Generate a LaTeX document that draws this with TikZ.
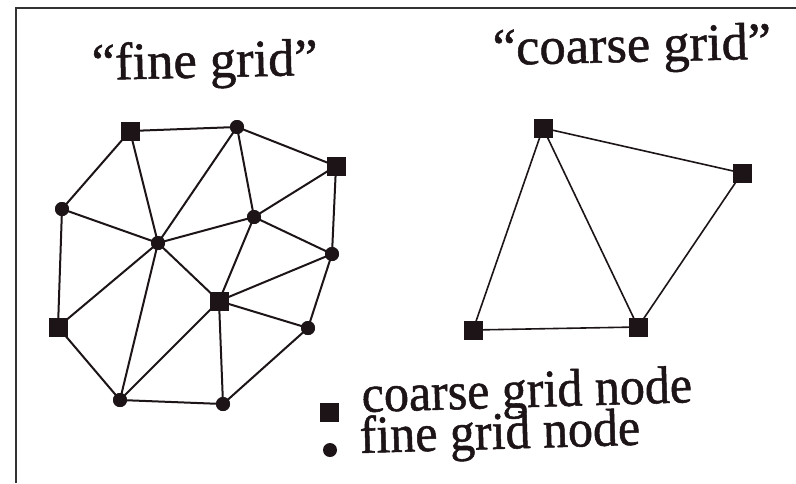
\documentclass[tikz,border=0pt]{standalone}
\usepackage{fontspec}
\setmainfont{Liberation Serif}
\newfontfamily\scanfont[FakeBold=1]{Liberation Serif}
\definecolor{ink}{RGB}{28,20,22}
\begin{document}
\begin{tikzpicture}[x=1pt,y=-1pt,
  cnode/.style={fill=ink,draw=none,minimum size=19pt,inner sep=0pt,outer sep=0pt,rectangle},
  fnode/.style={fill=ink,draw=none,minimum size=14pt,inner sep=0pt,outer sep=0pt,circle},
  edge/.style={draw=ink,line width=2pt},
  cedge/.style={draw=ink,line width=1.6pt},
  title/.style={font=\scanfont\fontsize{52.5}{52.5}\selectfont,text=ink,anchor=base west,inner sep=0pt,rotate=1.3},
  legend/.style={font=\scanfont\fontsize{50}{50}\selectfont,text=ink,anchor=base west,inner sep=0pt,rotate=1.7,yscale=1.06}]
\useasboundingbox (0,0) rectangle (796,483);
\fill[white] (0,0) rectangle (796,483);
% frame
\coordinate (fl) at (16,483);
\coordinate (fc) at (16,8);
\coordinate (fr) at (796,8);
\draw[line width=2pt,draw=black!80] (fl) -- (fc) -- (fr);
% titles
\node[title] (t1) at (92,80) {“fine grid”};
\node[title] (t2) at (493,65) {“coarse grid”};
% fine grid nodes
\node[cnode] (s1) at (130,131) {};
\node[fnode] (c1) at (237,127) {};
\node[cnode] (s2) at (336,166) {};
\node[fnode] (c2) at (62,209) {};
\node[fnode] (c3) at (158,243) {};
\node[fnode] (c4) at (254,217) {};
\node[fnode] (c5) at (332,254) {};
\node[cnode] (s3) at (219,301) {};
\node[cnode] (s4) at (58,327) {};
\node[fnode] (c6) at (308,328) {};
\node[fnode] (c7) at (120,400) {};
\node[fnode] (c8) at (223,404) {};
\draw[edge] (s1.center) -- (c1.center) -- (s2.center);
\draw[edge] (s1.center) -- (c2.center);
\draw[edge] (s1.center) -- (c3.center);
\draw[edge] (c1.center) -- (c3.center);
\draw[edge] (c1.center) -- (c4.center);
\draw[edge] (s2.center) -- (c4.center);
\draw[edge] (s2.center) -- (c5.center);
\draw[edge] (c2.center) -- (c3.center);
\draw[edge] (c2.center) -- (s4.center);
\draw[edge] (c3.center) -- (c4.center);
\draw[edge] (c3.center) -- (s4.center);
\draw[edge] (c3.center) -- (c7.center);
\draw[edge] (c3.center) -- (s3.center);
\draw[edge] (c4.center) -- (s3.center);
\draw[edge] (c4.center) -- (c5.center);
\draw[edge] (c5.center) -- (s3.center);
\draw[edge] (c5.center) -- (c6.center);
\draw[edge] (s3.center) -- (c6.center);
\draw[edge] (s3.center) -- (c7.center);
\draw[edge] (s3.center) -- (c8.center);
\draw[edge] (s4.center) -- (c7.center);
\draw[edge] (c7.center) -- (c8.center);
\draw[edge] (c8.center) -- (c6.center);
% redraw node marks on top of the edges
\foreach \n in {s1,s2,s3,s4}{\fill[ink] ([shift={(-9.5pt,-9.5pt)}]\n.center) rectangle ([shift={(9.5pt,9.5pt)}]\n.center);}
\foreach \n in {c1,c2,c3,c4,c5,c6,c7,c8}{\fill[ink] (\n.center) circle[radius=7pt];}
% coarse grid
\node[cnode] (a) at (543,128) {};
\node[cnode] (b) at (742,173) {};
\node[cnode] (c) at (473,330) {};
\node[cnode] (d) at (638,327) {};
\draw[cedge] (a.center) -- (b.center);
\draw[cedge] (a.center) -- (c.center);
\draw[cedge] (a.center) -- (d.center);
\draw[cedge] (b.center) -- (d.center);
\draw[cedge] (c.center) -- (d.center);
\foreach \n in {a,b,c,d}{\fill[ink] ([shift={(-9.5pt,-9.5pt)}]\n.center) rectangle ([shift={(9.5pt,9.5pt)}]\n.center);}
% legend
\node[cnode] (ls) at (329,412) {};
\node[fnode] (lc) at (330,450) {};
\node[legend] (l1) at (362,412) {coarse grid node};
\node[legend] (l2) at (360,453) {fine grid node};
\end{tikzpicture}
\end{document}
